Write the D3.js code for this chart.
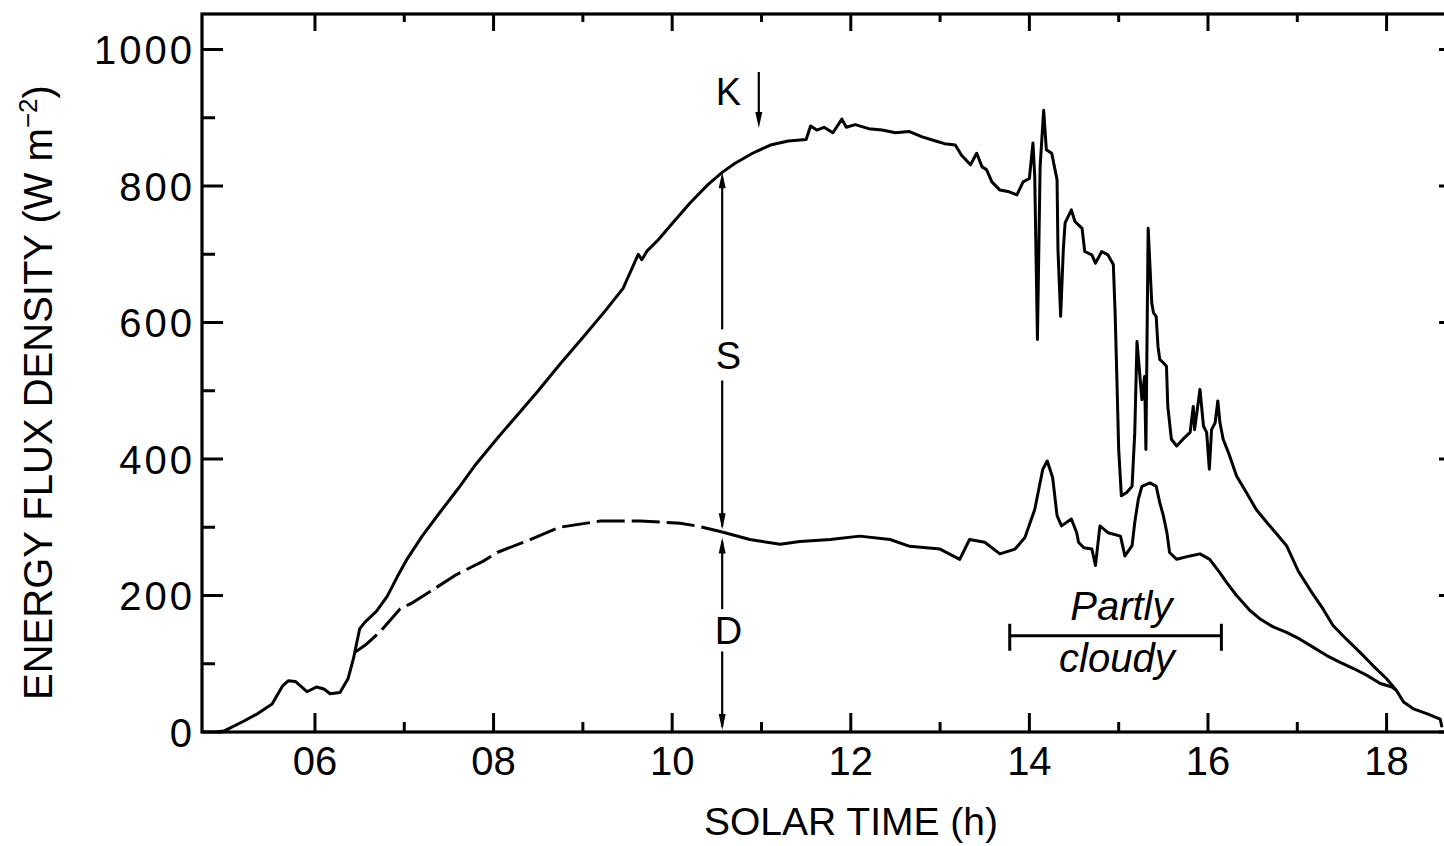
<!DOCTYPE html>
<html>
<head>
<meta charset="utf-8">
<script src="https://cdn.jsdelivr.net/npm/d3@7"></script>
<style>
  body { margin: 0; background: #fff; }
  svg text { font-family: "Liberation Sans", Arial, Helvetica, sans-serif; fill: #000; }
</style>
</head>
<body>
<svg id="chart" width="1444" height="846"></svg>
<script>
// Global (K) short-wave flux density, [solar hour, W m-2]
const globalFlux = [
  [4.90,0],[4.99,2],[5.19,15],[5.36,27],[5.52,41],[5.64,68],[5.70,75],[5.78,74],[5.91,59],[6.02,66],
  [6.10,63],[6.17,56],[6.28,58],[6.37,78],[6.43,107],[6.47,132],[6.50,151],[6.56,161],[6.69,177],[6.81,199],
  [6.92,227],[7.03,253],[7.20,287],[7.40,322],[7.60,356],[7.80,392],[8.04,430],[8.25,462],[8.50,500],[8.75,540],
  [9.00,578],[9.25,617],[9.45,650],[9.58,688],[9.62,700],[9.66,692],[9.72,705],[9.85,722],[10.00,745],[10.20,775],
  [10.40,802],[10.56,820],[10.70,833],[10.90,848],[11.10,860],[11.30,866],[11.50,868],[11.55,888],[11.62,882],[11.70,886],
  [11.80,878],[11.90,898],[11.95,886],[12.05,890],[12.20,884],[12.35,882],[12.50,878],[12.65,880],[12.80,872],[12.95,866],
  [13.05,862],[13.17,860],[13.24,845],[13.34,831],[13.41,848],[13.47,828],[13.52,824],[13.58,806],[13.67,794],[13.76,792],
  [13.86,787],[13.93,806],[14.00,811],[14.04,863],[14.06,814],[14.09,575],[14.12,828],[14.16,911],[14.19,853],[14.25,848],
  [14.31,809],[14.32,707],[14.35,609],[14.38,707],[14.40,746],[14.47,765],[14.51,748],[14.59,738],[14.62,704],[14.70,699],
  [14.74,687],[14.81,704],[14.88,699],[14.94,685],[14.96,614],[14.98,517],[15.00,414],[15.03,346],[15.09,351],[15.15,360],
  [15.18,439],[15.205,572],[15.26,487],[15.29,521],[15.305,414],[15.33,738],[15.37,629],[15.39,614],[15.42,609],[15.44,565],
  [15.46,546],[15.50,541],[15.535,536],[15.55,477],[15.59,429],[15.65,419],[15.72,429],[15.80,439],[15.835,477],[15.85,443],
  [15.91,502],[15.95,448],[15.985,439],[16.015,385],[16.04,443],[16.08,453],[16.11,485],[16.134,453],[16.17,429],[16.23,409],
  [16.32,375],[16.43,351],[16.54,326],[16.66,307],[16.77,290],[16.88,273],[17.01,236],[17.16,205],[17.29,180],[17.40,156],
  [17.55,136],[17.70,117],[17.85,97],[18.00,78],[18.11,61],[18.19,44],[18.30,34],[18.45,27],[18.60,19],[18.62,7]
];

// Diffuse (D) flux density, morning part drawn dashed
const diffuseMorning = [
  [6.45,117],[6.58,129],[6.73,147],[6.95,180],[7.10,190],[7.29,206],[7.59,231],[7.88,250],[8.04,263],
  [8.41,282],[8.74,300],[9.19,309],[9.64,309],[10.09,306],[10.31,301],[10.56,293]
];

// Diffuse (D) flux density, rest of the day
const diffuseLater = [
  [10.56,293],[10.87,282],[11.21,275],[11.43,279],[11.77,282],[12.10,287],[12.44,282],[12.66,272],[13.00,268],[13.22,253],
  [13.33,282],[13.50,278],[13.67,261],[13.84,268],[13.95,285],[14.06,326],[14.15,385],[14.20,397],[14.26,373],[14.31,317],
  [14.36,302],[14.47,312],[14.53,292],[14.55,278],[14.61,270],[14.70,268],[14.74,244],[14.79,302],[14.88,292],[15.02,287],
  [15.07,258],[15.15,273],[15.18,307],[15.22,341],[15.26,360],[15.35,365],[15.42,360],[15.46,336],[15.50,317],[15.54,292],
  [15.57,263],[15.65,253],[15.80,258],[15.91,261],[16.02,253],[16.13,234],[16.21,219],[16.32,200],[16.47,178],[16.58,166],
  [16.73,154],[16.88,146],[17.03,136],[17.18,124],[17.33,112],[17.48,102],[17.63,93],[17.78,83],[17.93,71],[18.06,66],[18.11,61]
];

// Axis ticks and labels
const xMajorTicks = [6, 8, 10, 12, 14, 16, 18];
const xTickLabels = ["06", "08", "10", "12", "14", "16", "18"];
const xMinorTicks = [7, 9, 11, 13, 15, 17];
const yMajorTicks = [0, 200, 400, 600, 800, 1000];
const yMinorTicks = [100, 300, 500, 700, 900];

// Annotations
const splitHour = 10.56;            // S and D arrows
const splitGlobal = 820, splitDiffuse = 293;
const kHour = 10.97;                // K marker
const kArrow = [967, 885];
const cloudySpan = [13.78, 16.15];
const cloudyLevel = 141;

const svg = d3.select("#chart");

const x = d3.scaleLinear().domain([4.735, 18.822]).range([202, 1460]);
const y = d3.scaleLinear().domain([0, 1000]).range([732, 49.5]);

const ink = "#000";
const plotLeft = x.range()[0], plotRight = x.range()[1];
const plotBottom = y(0), plotTop = 14;

// frame
svg.append("rect")
  .attr("x", plotLeft).attr("y", plotTop)
  .attr("width", plotRight - plotLeft).attr("height", plotBottom - plotTop)
  .attr("fill", "none").attr("stroke", ink).attr("stroke-width", 3.2);

// ticks (inward on all four sides)
const tickG = svg.append("g").attr("stroke", ink).attr("stroke-width", 3);
function vTicks(vals, len) {
  tickG.selectAll(null).data(vals).join("line")
    .attr("x1", d => x(d)).attr("x2", d => x(d))
    .attr("y1", plotBottom).attr("y2", plotBottom - len);
  tickG.selectAll(null).data(vals).join("line")
    .attr("x1", d => x(d)).attr("x2", d => x(d))
    .attr("y1", plotTop).attr("y2", plotTop + len - 2);
}
function hTicks(vals, len) {
  tickG.selectAll(null).data(vals).join("line")
    .attr("x1", plotLeft).attr("x2", plotLeft + len)
    .attr("y1", d => y(d)).attr("y2", d => y(d));
  tickG.selectAll(null).data(vals).join("line")
    .attr("x1", plotRight).attr("x2", plotRight - len)
    .attr("y1", d => y(d)).attr("y2", d => y(d));
}
vTicks(xMajorTicks, 19);
vTicks(xMinorTicks, 10);
hTicks(yMajorTicks, 21);
hTicks(yMinorTicks, 13);

// tick labels
svg.append("g").selectAll("text").data(xMajorTicks).join("text")
  .attr("x", d => x(d)).attr("y", 775)
  .attr("text-anchor", "middle").attr("font-size", 40)
  .text((d, i) => xTickLabels[i]);

svg.append("g").selectAll("text").data(yMajorTicks).join("text")
  .attr("x", 195).attr("y", d => y(d) + 14.5)
  .attr("text-anchor", "end").attr("font-size", 40)
  .attr("letter-spacing", 3)
  .text(d => d);

// axis titles
svg.append("text")
  .attr("x", 851).attr("y", 835)
  .attr("text-anchor", "middle").attr("font-size", 39)
  .text("SOLAR TIME (h)");

const yTitle = svg.append("text")
  .attr("transform", "translate(52,700) rotate(-90)")
  .attr("text-anchor", "start").attr("font-size", 40);
yTitle.append("tspan").text("ENERGY FLUX DENSITY (W m");
yTitle.append("tspan").attr("font-size", 26).attr("dy", -15).text("−2");
yTitle.append("tspan").attr("dy", 15).text(")");

// curves
const line = d3.line().x(d => x(d[0])).y(d => y(d[1]));
const curves = svg.append("g").attr("fill", "none").attr("stroke", ink)
  .attr("stroke-width", 3).attr("stroke-linejoin", "round").attr("stroke-linecap", "butt");
curves.append("path").attr("d", line(globalFlux));
curves.append("path").attr("d", line(diffuseMorning)).attr("stroke-dasharray", "28,7");
curves.append("path").attr("d", line(diffuseLater));

// arrowhead: tip at (h, v) pointing up (dir=-1) or down (dir=1)
function arrowHead(g, h, v, dir) {
  const tx = x(h), ty = y(v);
  const len = 16, half = 3.5;
  g.append("path")
    .attr("d", `M${tx},${ty} L${tx - half},${ty - dir * len} L${tx + half},${ty - dir * len} Z`)
    .attr("fill", ink).attr("stroke", "none");
}

const ann = svg.append("g");
const annLine = (h, v1, v2) => ann.append("line")
  .attr("x1", x(h)).attr("x2", x(h)).attr("y1", y(v1)).attr("y2", y(v2))
  .attr("stroke", ink).attr("stroke-width", 2.2);

// K marker
annLine(kHour, kArrow[0], kArrow[1] + 10);
arrowHead(ann, kHour, kArrow[1], 1);
ann.append("text").attr("x", x(10.63)).attr("y", y(939) + 14)
  .attr("text-anchor", "middle").attr("font-size", 38).text("K");

// S: from global down to diffuse
annLine(splitHour, splitGlobal - 8, 590);
annLine(splitHour, 515, splitDiffuse + 8);
arrowHead(ann, splitHour, splitGlobal, -1);
arrowHead(ann, splitHour, splitDiffuse + 4, 1);
ann.append("text").attr("x", x(10.63)).attr("y", y(553) + 14)
  .attr("text-anchor", "middle").attr("font-size", 38).text("S");

// D: from diffuse down to zero
annLine(splitHour, splitDiffuse - 14, 180);
annLine(splitHour, 118, 8);
arrowHead(ann, splitHour, splitDiffuse - 8, -1);
arrowHead(ann, splitHour, 3, 1);
ann.append("text").attr("x", x(10.63)).attr("y", y(150) + 14)
  .attr("text-anchor", "middle").attr("font-size", 38).text("D");

// partly cloudy interval
const cl = svg.append("g").attr("stroke", ink).attr("stroke-width", 3);
cl.append("line").attr("x1", x(cloudySpan[0])).attr("x2", x(cloudySpan[1]))
  .attr("y1", y(cloudyLevel)).attr("y2", y(cloudyLevel));
cloudySpan.forEach(h => cl.append("line")
  .attr("x1", x(h)).attr("x2", x(h))
  .attr("y1", y(cloudyLevel) - 12).attr("y2", y(cloudyLevel) + 15));
svg.append("text").attr("x", x(15.03)).attr("y", 620)
  .attr("text-anchor", "middle").attr("font-size", 40).attr("font-style", "italic").text("Partly");
svg.append("text").attr("x", x(14.98)).attr("y", 672)
  .attr("text-anchor", "middle").attr("font-size", 40).attr("font-style", "italic").text("cloudy");
</script>
</body>
</html>
